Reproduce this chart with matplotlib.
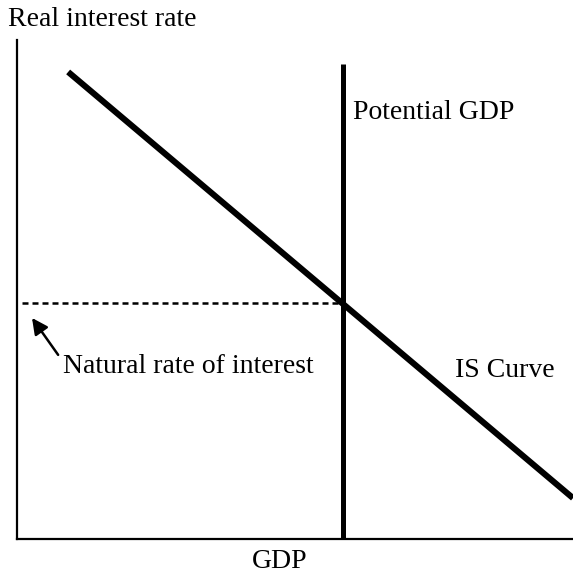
import matplotlib
matplotlib.use("Agg")
import matplotlib.pyplot as plt

# IS curve end points and the point where it meets potential GDP
is_x = [0.92, 10.0]
is_y = [9.36, 0.82]
potential_x = 5.86
potential_top = 9.52
natural_rate = 4.73

plt.rcParams['font.family'] = ['Liberation Serif', 'DejaVu Serif']

fig = plt.figure(figsize=(5.73, 5.75), dpi=100)
ax = fig.add_axes([17 / 573, 36 / 575, 556 / 573, 499 / 575])
ax.set_xlim(0, 10)
ax.set_ylim(0, 10)

ax.plot(is_x, is_y, color='black', lw=4.4, solid_capstyle='butt', clip_on=False)
ax.plot([potential_x, potential_x], [0, potential_top], color='black', lw=3.6,
        solid_capstyle='butt')
ax.plot([0.09, potential_x], [natural_rate, natural_rate], color='black', lw=1.8,
        linestyle=(0, (2.4, 1.6)))

ax.annotate('', xy=(0.27, 4.43), xytext=(0.74, 3.69),
            arrowprops=dict(arrowstyle='-|>', color='black', lw=1.8,
                            mutation_scale=24, shrinkA=0, shrinkB=0))

fs = 20
ax.text(0.83, 3.45, 'Natural rate of interest', fontsize=fs, va='center', ha='left')
ax.text(7.88, 3.38, 'IS Curve', fontsize=fs, va='center', ha='left')
ax.text(6.05, 8.55, 'Potential GDP', fontsize=fs, va='center', ha='left')

fig.text(8 / 573, 1 - 20 / 575, 'Real interest rate', fontsize=fs, va='center', ha='left')
fig.text(280 / 573, 1 - 561 / 575, 'GDP', fontsize=fs, va='center', ha='center')

for side in ['top', 'right']:
    ax.spines[side].set_visible(False)
for side in ['left', 'bottom']:
    ax.spines[side].set_linewidth(1.6)
ax.set_xticks([])
ax.set_yticks([])

fig.savefig('out.png', dpi=100)
